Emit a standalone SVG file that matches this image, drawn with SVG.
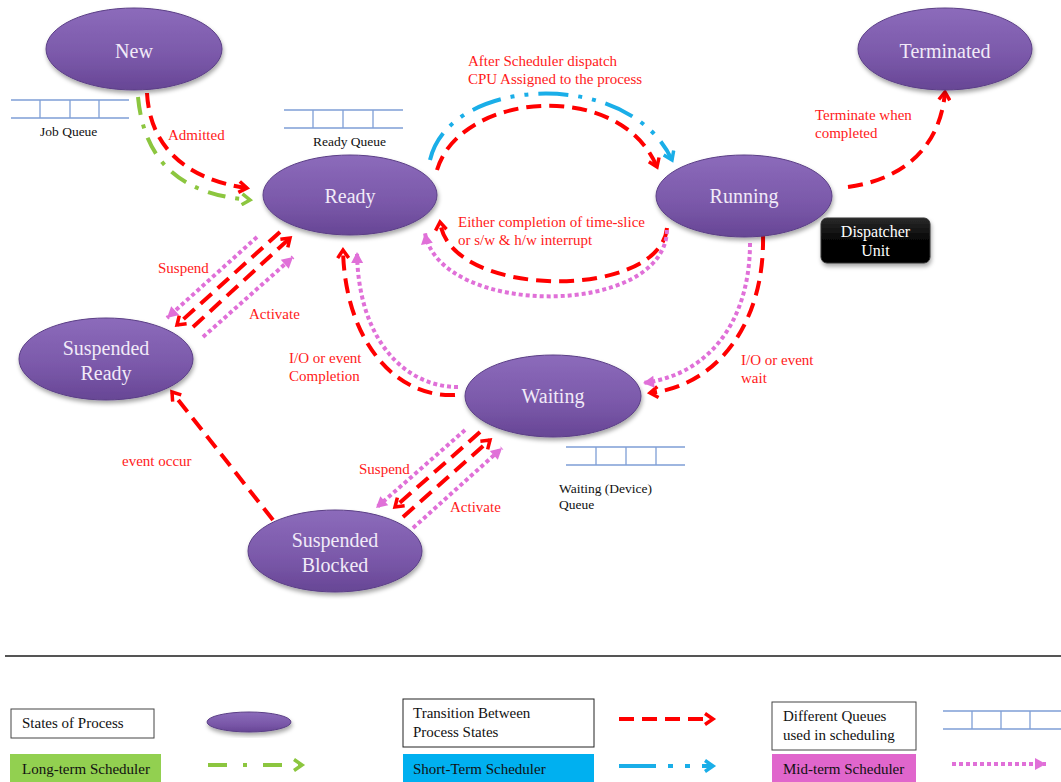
<svg xmlns="http://www.w3.org/2000/svg" width="1061" height="782" viewBox="0 0 1061 782">
<style>
.node ellipse{fill:url(#pg);stroke:#5b3f86;stroke-width:1;filter:url(#sh)}
.nt{font-family:"Liberation Serif",serif;font-size:20px;fill:#f1eaf8;text-anchor:middle}
.lbl{font-family:"Liberation Serif",serif;font-size:15px;fill:#ff1a1a}
.ql{font-family:"Liberation Serif",serif;font-size:13.5px;fill:#111}
.lg{font-family:"Liberation Serif",serif;font-size:15px;fill:#111}
.q{stroke:#7f9fd6;stroke-width:1.3;fill:none}
.red{fill:none;stroke:#ff0000;stroke-width:4;stroke-dasharray:15 8;marker-end:url(#mr)}
.pink{fill:none;stroke:#e070d8;stroke-width:4;stroke-dasharray:4 3;marker-end:url(#mp)}
.blue{fill:none;stroke:#1aaee8;stroke-width:4;stroke-dasharray:30 10 4 10 4 10;marker-end:url(#mb)}
.green{fill:none;stroke:#8cc63f;stroke-width:4;stroke-dasharray:18 10 4 10;marker-end:url(#mg)}
</style>
<defs>
<linearGradient id="pg" x1="0" y1="0" x2="0" y2="1">
<stop offset="0" stop-color="#8c6bbb"/>
<stop offset="0.6" stop-color="#7a58a9"/>
<stop offset="1" stop-color="#674695"/>
</linearGradient>
<linearGradient id="bg" x1="0" y1="0" x2="0" y2="1">
<stop offset="0" stop-color="#2a2a2a"/>
<stop offset="0.5" stop-color="#050505"/>
<stop offset="1" stop-color="#000"/>
</linearGradient>
<filter id="sh" x="-20%" y="-20%" width="140%" height="150%">
<feDropShadow dx="1" dy="3" stdDeviation="2" flood-color="#000" flood-opacity="0.35"/>
</filter>
<marker id="mr" markerUnits="userSpaceOnUse" markerWidth="14" markerHeight="14" viewBox="0 0 14 14" refX="10" refY="7" orient="auto">
<path d="M2,1.5 L10,7 L2,12.5" fill="none" stroke="#ff0000" stroke-width="3.5"/>
</marker>
<marker id="mb" markerUnits="userSpaceOnUse" markerWidth="14" markerHeight="14" viewBox="0 0 14 14" refX="10" refY="7" orient="auto">
<path d="M2,1.5 L10,7 L2,12.5" fill="none" stroke="#1aaee8" stroke-width="3.5"/>
</marker>
<marker id="mg" markerUnits="userSpaceOnUse" markerWidth="14" markerHeight="14" viewBox="0 0 14 14" refX="10" refY="7" orient="auto">
<path d="M2,1.5 L10,7 L2,12.5" fill="none" stroke="#8cc63f" stroke-width="3.5"/>
</marker>
<marker id="mp" markerUnits="userSpaceOnUse" markerWidth="14" markerHeight="14" viewBox="0 0 14 14" refX="12" refY="7" orient="auto">
<path d="M1,1 L12,7 L1,13 Z" fill="#e070d8"/>
</marker>
</defs>
<rect width="1061" height="782" fill="#fff"/>

<!-- queues -->
<g id="job-queue">
<path class="q" d="M11,100 H129 M11,118 H129 M40,100 V118 M70,100 V118 M99,100 V118"/>
<text class="ql" x="40" y="136">Job Queue</text>
</g>
<g id="ready-queue">
<path class="q" d="M284,110 H403 M284,128 H403 M313,110 V128 M343,110 V128 M373,110 V128"/>
<text class="ql" x="313" y="146">Ready Queue</text>
</g>
<g id="waiting-queue">
<path class="q" d="M566,447 H685 M566,465 H685 M596,447 V465 M626,447 V465 M656,447 V465"/>
<text class="ql" x="559" y="493">Waiting (Device)</text>
<text class="ql" x="559" y="509">Queue</text>
</g>

<!-- connectors -->
<g id="connectors">
<path class="green" d="M138,97 C145,170 190,195 250,200"/>
<path class="red" d="M147,93 C150,150 190,180 247,188"/>
<path class="blue" d="M430,160 C450,75 630,68 672,160"/>
<path class="red" d="M437,170 C460,92 620,78 657,167"/>
<path class="red" d="M667,228 C660,300 450,300 440,222"/>
<path class="pink" d="M667,230 C665,318 440,318 425,233"/>
<path class="red" d="M848,187 C900,180 940,150 945,92"/>
<path class="pink" d="M257,237 L167,318"/>
<path class="red" d="M280,232 L177,325"/>
<path class="red" d="M193,327 L290,238"/>
<path class="pink" d="M203,337 L293,257"/>
<path class="red" d="M455,395 C395,398 345,340 343,250"/>
<path class="pink" d="M458,387 C405,387 358,340 357,252"/>
<path class="red" d="M763,235 C765,320 720,385 650,393"/>
<path class="pink" d="M750,243 C750,320 710,375 643,383"/>
<path class="pink" d="M465,430 L376,508"/>
<path class="red" d="M480,432 L395,507"/>
<path class="red" d="M403,517 L490,440"/>
<path class="pink" d="M413,528 L502,448"/>
<path class="red" d="M273,520 L172,392"/>
</g>

<!-- connector labels -->
<g id="labels">
<text class="lbl" x="168" y="140">Admitted</text>
<text class="lbl" x="468" y="66">After Scheduler dispatch</text>
<text class="lbl" x="468" y="84">CPU Assigned to the process</text>
<text class="lbl" x="458" y="227">Either completion of time-slice</text>
<text class="lbl" x="458" y="245">or s/w &amp; h/w interrupt</text>
<text class="lbl" x="815" y="120">Terminate when</text>
<text class="lbl" x="815" y="138">completed</text>
<text class="lbl" x="158" y="273">Suspend</text>
<text class="lbl" x="249" y="319">Activate</text>
<text class="lbl" x="289" y="363">I/O or event</text>
<text class="lbl" x="289" y="381">Completion</text>
<text class="lbl" x="741" y="365">I/O or event</text>
<text class="lbl" x="741" y="383">wait</text>
<text class="lbl" x="359" y="474">Suspend</text>
<text class="lbl" x="450" y="512">Activate</text>
<text class="lbl" x="122" y="466">event  occur</text>
</g>

<!-- nodes -->
<g id="node-new" class="node"><ellipse cx="134" cy="49" rx="88" ry="41"/><text class="nt" x="134" y="58">New</text></g>
<g id="node-ready" class="node"><ellipse cx="350" cy="195" rx="87" ry="40"/><text class="nt" x="350" y="203">Ready</text></g>
<g id="node-terminated" class="node"><ellipse cx="945" cy="49" rx="87" ry="41"/><text class="nt" x="945" y="58">Terminated</text></g>
<g id="node-running" class="node"><ellipse cx="744" cy="196" rx="88" ry="41"/><text class="nt" x="744" y="203">Running</text></g>
<g id="node-suspended-ready" class="node"><ellipse cx="106" cy="359" rx="87" ry="41"/><text class="nt" x="106" y="355">Suspended</text><text class="nt" x="106" y="380">Ready</text></g>
<g id="node-waiting" class="node"><ellipse cx="553" cy="396" rx="88" ry="41"/><text class="nt" x="553" y="403">Waiting</text></g>
<g id="node-suspended-blocked" class="node"><ellipse cx="335" cy="551" rx="87" ry="41"/><text class="nt" x="335" y="547">Suspended</text><text class="nt" x="335" y="572">Blocked</text></g>
<g id="node-dispatcher">
<rect x="821" y="218" width="109" height="45" rx="6" fill="url(#bg)" stroke="#333" stroke-width="1" filter="url(#sh)"/>
<text x="875.5" y="237" font-family="Liberation Serif,serif" font-size="16" fill="#fff" text-anchor="middle">Dispatcher</text>
<text x="875.5" y="256" font-family="Liberation Serif,serif" font-size="16" fill="#fff" text-anchor="middle">Unit</text>
</g>

<!-- separator -->
<line x1="5" y1="656" x2="1061" y2="656" stroke="#555" stroke-width="2"/>

<!-- legend -->
<g id="legend">
<rect x="11" y="709" width="143" height="29" fill="#fff" stroke="#444" stroke-width="1"/>
<text class="lg" x="22" y="728">States of Process</text>
<ellipse cx="249" cy="722" rx="42" ry="10" fill="url(#pg)" stroke="#5b3f86" stroke-width="1" filter="url(#sh)"/>
<rect x="10" y="754" width="151" height="30" fill="#92d050"/>
<text class="lg" x="22" y="774">Long-term Scheduler</text>
<path class="green" d="M208,765 L302,765" style="stroke-dasharray:19 16 4 16"/>

<rect x="403" y="699" width="191" height="48" fill="#fff" stroke="#222" stroke-width="1"/>
<text class="lg" x="413" y="718">Transition Between</text>
<text class="lg" x="413" y="737">Process States</text>
<rect x="403" y="754" width="191" height="30" fill="#00b0f0"/>
<text class="lg" x="413" y="774">Short-Term Scheduler</text>
<path class="red" d="M619,719 L713,719"/>
<path class="blue" d="M619,766 L713,766" style="stroke-dasharray:37 12 5 12 5 12"/>

<rect x="772" y="702" width="144" height="48" fill="#fff" stroke="#444" stroke-width="1"/>
<text class="lg" x="783" y="721">Different Queues</text>
<text class="lg" x="783" y="740">used in scheduling</text>
<rect x="772" y="754" width="144" height="30" fill="#e066cc"/>
<text class="lg" x="783" y="774">Mid-term Scheduler</text>
<path class="q" d="M943,711 H1061 M943,729 H1061 M972,711 V729 M1001,711 V729 M1030,711 V729"/>
<path class="pink" d="M952,764 L1046,764"/>
</g>
</svg>
